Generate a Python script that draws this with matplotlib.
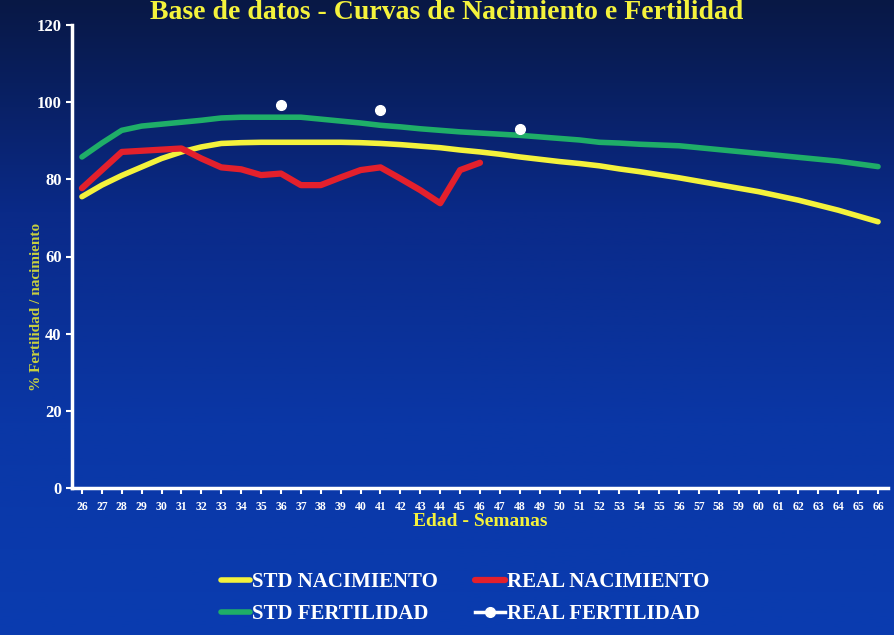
import matplotlib
matplotlib.use("Agg")
import matplotlib.pyplot as plt
import numpy as np
import pandas as pd

# edad en semanas
weeks = list(range(26, 67))

std_nacimiento = [75.5, 78.5, 81.0, 83.2, 85.4, 87.1, 88.4, 89.3, 89.5, 89.6,
                  89.6, 89.6, 89.6, 89.6, 89.5, 89.3, 89.0, 88.6, 88.2, 87.6,
                  87.1, 86.5, 85.8, 85.2, 84.6, 84.1, 83.5, 82.7, 82.0, 81.2,
                  80.4, 79.5, 78.6, 77.7, 76.8, 75.7, 74.6, 73.3, 72.0, 70.5,
                  69.0]
std_fertilidad = [85.8, 89.4, 92.7, 93.8, 94.3, 94.8, 95.3, 95.9, 96.1, 96.1,
                  96.1, 96.1, 95.6, 95.1, 94.6, 94.0, 93.6, 93.1, 92.7, 92.3,
                  92.0, 91.7, 91.4, 91.0, 90.6, 90.2, 89.6, 89.4, 89.1, 88.9,
                  88.7, 88.2, 87.7, 87.2, 86.7, 86.2, 85.7, 85.2, 84.7, 84.0,
                  83.3]

real_nac_weeks = list(range(26, 47))
real_nacimiento = [77.7, 82.4, 87.1, 87.4, 87.7, 88.0, 85.4, 83.1, 82.6, 81.1,
                   81.5, 78.5, 78.5, 80.5, 82.4, 83.1, 80.2, 77.2, 73.8, 82.4,
                   84.3]

real_fert_weeks = [36, 41, 48]
real_fertilidad = [99.2, 97.9, 93.0]

yellow = '#f4f23c'
red = '#e3202c'
green = '#1fae68'
serif = 'Liberation Serif'

fig = plt.figure(figsize=(8.94, 6.35), dpi=100)

# fondo degradado
bg = fig.add_axes([0, 0, 1, 1], zorder=-10)
grad = np.linspace(0, 1, 256).reshape(-1, 1)
cmap = matplotlib.colors.LinearSegmentedColormap.from_list(
    'bg', ['#081845', '#0a2a88', '#0a37a6', '#0a3cb0'])
bg.imshow(grad, aspect='auto', cmap=cmap, extent=[0, 1, 0, 1], origin='upper')
bg.axis('off')

ax = fig.add_axes([72 / 894, 1 - 488 / 635, 816 / 894, 463 / 635])
ax.patch.set_alpha(0)

h1, = ax.plot(weeks, std_nacimiento, color=yellow, lw=4, solid_capstyle='round',
              label='STD NACIMIENTO', zorder=3)
h2, = ax.plot(real_nac_weeks, real_nacimiento, color=red, lw=4.5,
              solid_capstyle='round', label='REAL NACIMIENTO', zorder=4)
h3, = ax.plot(weeks, std_fertilidad, color=green, lw=4, solid_capstyle='round',
              label='STD FERTILIDAD', zorder=2)

rf = pd.Series(real_fertilidad, index=real_fert_weeks).reindex(weeks)
h4, = ax.plot(weeks, rf.values, color='white', lw=2.5, marker='o', markersize=7,
              label='REAL FERTILIDAD', zorder=5)

ax.set_xlim(25.5, 66.5)
ax.set_ylim(0, 120)
ax.set_xticks(weeks)
ax.set_yticks(range(0, 121, 20))
ax.set_xticklabels([str(w) for w in weeks], fontsize=8.5, fontweight='bold',
                   family=serif, color='white')
ax.set_yticklabels([str(v) for v in range(0, 121, 20)], fontsize=12,
                   fontweight='bold', family=serif, color='white')
ax.tick_params(axis='both', colors='white', length=4, width=1.5)
ax.tick_params(axis='x', pad=5)

for s in ['top', 'right']:
    ax.spines[s].set_visible(False)
for s in ['left', 'bottom']:
    ax.spines[s].set_color('white')
    ax.spines[s].set_linewidth(2.5)

ax.set_xlabel('Edad - Semanas', fontsize=14, fontweight='bold', family=serif,
              color=yellow, labelpad=0)
ax.set_ylabel('% Fertilidad / nacimiento', fontsize=11, fontweight='bold',
              family=serif, color='#c8d040')
ax.yaxis.set_label_coords(-0.036, 0.39)

fig.text(0.5, 1.0, 'Base de datos - Curvas de Nacimiento e Fertilidad',
         ha='center', va='top', fontsize=20, fontweight='bold',
         family=serif, color=yellow)

# orden por filas como en el original
leg = fig.legend([h1, h3, h2, h4],
                 ['STD NACIMIENTO', 'STD FERTILIDAD', 'REAL NACIMIENTO',
                  'REAL FERTILIDAD'],
                 loc='center', bbox_to_anchor=(0.52, 0.058), ncol=2,
                 frameon=False, handlelength=1.4, handletextpad=0.1,
                 columnspacing=1.8, labelspacing=0.55,
                 prop={'family': serif, 'size': 15, 'weight': 'bold'})
for t in leg.get_texts():
    t.set_color('white')

fig.savefig('out.png', dpi=100)
